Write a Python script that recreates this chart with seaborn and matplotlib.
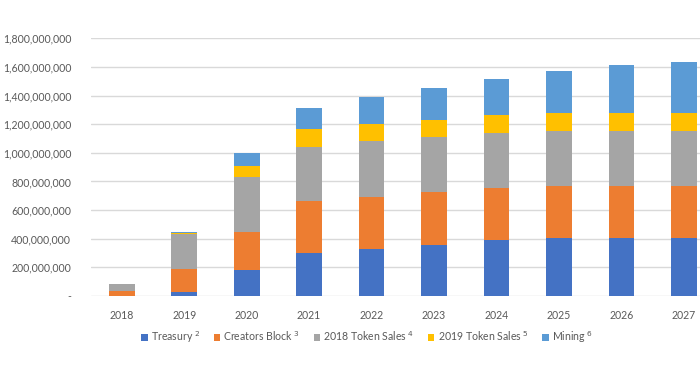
import matplotlib
matplotlib.use("Agg")
import matplotlib.pyplot as plt
import seaborn as sns
import numpy as np
import pandas as pd
from matplotlib.patches import Patch

years = ["2018", "2019", "2020", "2021", "2022", "2023", "2024", "2025", "2026", "2027"]
treasury = [0, 30e6, 182e6, 303e6, 331e6, 359e6, 392e6, 404e6, 404e6, 404e6]
creators = [38e6, 162e6, 268e6, 362e6, 362e6, 364e6, 360e6, 366e6, 366e6, 366e6]
sales_2018 = [44e6, 242e6, 378e6, 378e6, 387e6, 385e6, 385e6, 385e6, 385e6, 385e6]
sales_2019 = [0, 6e6, 77e6, 124e6, 124e6, 124e6, 124e6, 124e6, 124e6, 124e6]
mining = [0, 5e6, 94e6, 147e6, 184e6, 222e6, 257e6, 294e6, 333e6, 357e6]

series_names = ["Treasury $^{2}$", "Creators Block $^{3}$", "2018 Token Sales $^{4}$",
                "2019 Token Sales $^{5}$", "Mining $^{6}$"]
series_values = [treasury, creators, sales_2018, sales_2019, mining]
colors = ["#4472C4", "#ED7D31", "#A5A5A5", "#FFC000", "#5B9BD5"]
yticks = [0, 200e6, 400e6, 600e6, 800e6, 1000e6, 1200e6, 1400e6, 1600e6, 1800e6]
ytick_labels = ["-", "200,000,000", "400,000,000", "600,000,000", "800,000,000",
                "1,000,000,000", "1,200,000,000", "1,400,000,000", "1,600,000,000",
                "1,800,000,000"]

sns.set_style("white")
plt.rcParams["font.family"] = ["Lato", "DejaVu Sans"]

fig = plt.figure(figsize=(7, 3.75), dpi=100)
ax = fig.add_axes([90.6 / 700, 1 - 296 / 375, (715 - 90.6) / 700, (296 - 38.3) / 375])

bottom = np.zeros(len(years))
for name, vals, col in zip(series_names, series_values, colors):
    df = pd.DataFrame({"year": years, "value": vals})
    sns.barplot(data=df, x="year", y="value", color=col, width=0.41,
                bottom=bottom, ax=ax, saturation=1, linewidth=0, zorder=3)
    bottom = bottom + np.array(vals)

ax.set_xlim(-0.5, 9.5)
ax.set_ylim(0, 1800e6)
ax.set_yticks(yticks)
ax.set_yticklabels(ytick_labels)
ax.yaxis.grid(True, color="#D9D9D9", linewidth=1, zorder=0)
ax.xaxis.grid(False)
for s in ax.spines.values():
    s.set_visible(False)
ax.tick_params(axis="both", length=0, labelsize=7.6, colors="#595959", pad=0)
ax.tick_params(axis="y", pad=14)
ax.tick_params(axis="x", pad=10)
ax.set_xlabel("")
ax.set_ylabel("")

handles = [Patch(facecolor=c, edgecolor="none") for c in colors]
fig.legend(handles, series_names, loc="center", bbox_to_anchor=(367 / 700, 1 - 337 / 375),
           ncol=5, frameon=False, fontsize=7.6, handlelength=0.6, handleheight=0.6,
           handletextpad=0.3, columnspacing=1.3, labelcolor="#595959")

fig.savefig("out.png", dpi=100)
